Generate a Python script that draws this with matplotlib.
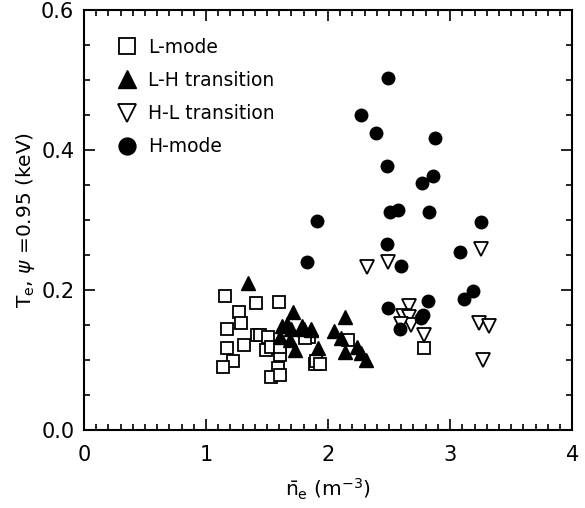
import numpy as np
import matplotlib
matplotlib.use("Agg")
from matplotlib import pyplot as plt
from matplotlib.ticker import MultipleLocator

# L-mode (open squares)
lmode_n = [1.155, 1.27, 1.41, 1.60, 1.29, 1.17, 1.31, 1.17, 1.22, 1.14, 1.42, 1.44, 1.51, 1.49,
           1.53, 1.61, 1.59, 1.53, 1.61, 1.61, 1.89, 1.84, 2.16, 1.90, 1.93, 1.81, 2.79]
lmode_t = [0.191, 0.169, 0.181, 0.183, 0.153, 0.145, 0.121, 0.117, 0.099, 0.090, 0.136, 0.136, 0.133, 0.114,
           0.119, 0.107, 0.088, 0.076, 0.079, 0.118, 0.095, 0.133, 0.129, 0.098, 0.094, 0.131, 0.117]

# L-H transition (filled triangles)
lh_n = [1.34, 1.71, 1.66, 1.62, 1.70, 1.79, 1.86, 1.61, 1.69, 1.73, 2.14, 2.05, 2.11, 1.92,
        2.14, 2.24, 2.27, 2.31, 1.80, 1.86]
lh_t = [0.210, 0.169, 0.152, 0.148, 0.145, 0.148, 0.145, 0.133, 0.129, 0.114, 0.161, 0.142, 0.131, 0.117,
        0.112, 0.119, 0.110, 0.100, 0.145, 0.143]

# H-L transition (open down triangles)
hl_n = [2.32, 2.49, 3.25, 2.66, 2.61, 2.66, 2.68, 2.79, 3.24, 3.32, 3.27, 2.60]
hl_t = [0.233, 0.240, 0.259, 0.177, 0.163, 0.162, 0.150, 0.136, 0.153, 0.148, 0.100, 0.152]

# H-mode (filled circles)
hmode_n = [2.49, 2.27, 2.39, 2.88, 2.48, 2.86, 2.77, 2.51, 2.57, 2.83, 3.25, 2.48, 3.08, 2.60,
           3.19, 3.11, 2.49, 2.82, 2.78, 2.76, 2.59, 1.91, 1.83]
hmode_t = [0.503, 0.450, 0.425, 0.417, 0.378, 0.363, 0.353, 0.311, 0.314, 0.312, 0.297, 0.266, 0.255, 0.235,
           0.198, 0.187, 0.174, 0.184, 0.164, 0.160, 0.144, 0.298, 0.240]

plt.rcParams['font.family'] = ['DejaVu Sans']
fig = plt.figure(figsize=(5.85, 5.08), dpi=100)
ax = fig.add_axes([0.1436, 0.1535, 0.8344, 0.8265])

ax.plot(lmode_n, lmode_t, 's', mfc='white', mec='black', mew=1.3, ms=9, label='L-mode', ls='none')
ax.plot(lh_n, lh_t, '^', color='black', ms=10, label='L-H transition', ls='none')
ax.plot(hl_n, hl_t, 'v', mfc='white', mec='black', mew=1.3, ms=10, label='H-L transition', ls='none')
ax.plot(hmode_n, hmode_t, 'o', color='black', ms=9, label='H-mode', ls='none')

ax.set_xlim(0, 4)
ax.set_ylim(0, 0.6)
ax.xaxis.set_major_locator(MultipleLocator(1))
ax.xaxis.set_minor_locator(MultipleLocator(0.1))
ax.yaxis.set_major_locator(MultipleLocator(0.2))
ax.yaxis.set_minor_locator(MultipleLocator(0.05))
ax.xaxis.set_major_formatter(plt.FuncFormatter(lambda v, p: '%d' % v))
ax.yaxis.set_major_formatter(plt.FuncFormatter(lambda v, p: '%.1f' % v))
ax.tick_params(which='both', direction='in', top=True, right=True, labelsize=15, width=1.2)
ax.tick_params(axis='x', which='major', length=8, pad=11)
ax.tick_params(axis='y', which='major', length=8, pad=7)
ax.tick_params(which='minor', length=4)
for s in ax.spines.values():
    s.set_linewidth(1.5)

ax.set_xlabel(r'$\bar{\rm n}_{\rm e}$ (m$^{-3}$)', fontsize=14.5, labelpad=8)
ax.set_ylabel(r'T$_{\rm e}$, $\psi$ =0.95 (keV)', fontsize=14.5, labelpad=3)

ax.legend(loc='upper left', bbox_to_anchor=(0.031, 0.974), frameon=False, fontsize=13.5,
          labelspacing=0.75, handletextpad=0.5, handlelength=1.2, markerscale=1.35)

fig.savefig('out.png', dpi=100)
